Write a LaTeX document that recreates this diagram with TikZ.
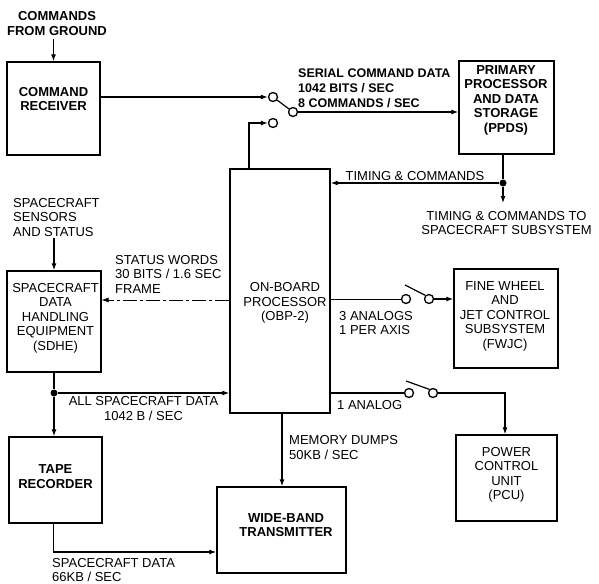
\documentclass[tikz,border=0pt]{standalone}
\usepackage{fontspec}
\setmainfont{Liberation Sans}
\usetikzlibrary{arrows.meta,calc,positioning}

\begin{document}
\begin{tikzpicture}[x=1pt,y=-1pt,
  every node/.style={font=\fontsize{13pt}{14.5pt}\selectfont},
  bf/.style={font=\fontsize{13pt}{14.5pt}\selectfont\bfseries},
  blk/.style={draw,line width=1.3pt,inner sep=0pt},
  txt/.style={align=left,inner sep=1pt},
  arr/.style={-{Latex[length=7pt,width=5pt]}},
  wire/.style={line width=1.2pt},
  thinwire/.style={line width=0.6pt},
  contact/.style={circle,draw,line width=1.3pt,minimum size=9pt,inner sep=0pt},
  jdot/.style={circle,fill,minimum size=7pt,inner sep=0pt}]
  \useasboundingbox (0,0) rectangle (599,583);

  % blocks
  \node[blk,minimum width=93pt,minimum height=93pt] (cr) at (53.5,108.5) {};
  \node[bf,align=center] (crtext) at (53.5,99) {COMMAND\\RECEIVER};
  \node[blk,minimum width=95pt,minimum height=93pt] (ppds) at (506.5,107.5) {};
  \node[bf,align=center] (ppdstext) at (506,100) {PRIMARY\\PROCESSOR\\AND DATA\\STORAGE\\(PPDS)};
  \node[blk,minimum width=100pt,minimum height=244pt] (obp) at (280,291) {};
  \node[align=center] (obptext) at (285,303) {ON-BOARD\\PROCESSOR\\(OBP-2)};
  \node[blk,minimum width=94pt,minimum height=101pt] (sdhe) at (54,321.5) {};
  \node[align=center] (sdhetext) at (55.5,318) {SPACECRAFT\\DATA\\HANDLING\\EQUIPMENT\\(SDHE)};
  \node[blk,minimum width=104pt,minimum height=99pt] (fwjc) at (506,318.5) {};
  \node[align=center] (fwjctext) at (505,316) {FINE WHEEL\\AND\\JET CONTROL\\SUBSYSTEM\\(FWJC)};
  \node[blk,minimum width=93pt,minimum height=86pt] (tape) at (55.5,480) {};
  \node[bf,align=center] (tapetext) at (55.5,476.5) {TAPE\\RECORDER};
  \node[blk,minimum width=129pt,minimum height=86pt] (wbt) at (281.5,530) {};
  \node[bf,align=center] (wbttext) at (286,525) {WIDE-BAND\\TRANSMITTER};
  \node[blk,minimum width=101pt,minimum height=86pt] (pcu) at (506.5,478) {};
  \node[align=center] (pcutext) at (506.5,475) {POWER\\CONTROL\\UNIT\\(PCU)};

  % command path and first switch
  \node[bf,align=center] (cmds) at (57,23.5) {COMMANDS\\FROM GROUND};
  \draw[wire,arr] (cmds.south -| cr.north) -- (cr.north);
  \node[contact] (swa) at (273,97) {};
  \node[contact] (swc) at (293,112) {};
  \node[contact] (swb) at (273,123) {};
  \draw[wire,arr] ([yshift=11.5pt]cr.east) -- (swa);
  \draw[wire] (swa) -- (swc);
  \draw[wire,arr] (swc) -- (swc -| ppds.west);
  \draw[wire,arr] ([xshift=-31pt]obp.north) |- (swb);
  \node[txt,anchor=west,font=\fontsize{12.5pt}{15pt}\selectfont\bfseries] (serial) at (297,88) {SERIAL COMMAND DATA\\1042 BITS / SEC\\8 COMMANDS / SEC};

  % timing
  \node[jdot] (tdot) at (503,183) {};
  \coordinate (tout) at (503,203);
  \draw[wire] (ppds.south -| tdot) -- (tdot);
  \draw[wire,arr] (tdot) -- (tout);
  \draw[wire,arr] (tdot) -- (tdot -| obp.east) node[midway,above,inner sep=2pt] (timing) {TIMING \& COMMANDS};
  \node[align=center] (tsub) at (506.5,223) {TIMING \& COMMANDS TO\\SPACECRAFT SUBSYSTEM};

  % sensors and status
  \node[txt,anchor=west] (sens) at (12,217.5) {SPACECRAFT\\SENSORS\\AND STATUS};
  \draw[wire,arr] (sens.south -| sdhe.north) -- (sdhe.north);
  \draw[thinwire,arr,dash pattern=on 14pt off 3pt on 3pt off 3pt] ([yshift=-9pt]obp.west) -- ([yshift=-9pt]obp.west -| sdhe.east);
  \node[txt,anchor=west] (status) at (114,274) {STATUS WORDS\\30 BITS / 1.6 SEC\\FRAME};

  % spacecraft data
  \node[jdot] (sdot) at (54,393) {};
  \draw[wire] (sdhe.south) -- (sdot);
  \draw[wire,arr] (sdot) -- (sdot |- tape.north);
  \draw[wire,arr] (sdot) -- (sdot -| obp.west) node[midway,below,align=center,inner sep=3pt] (alldata) {ALL SPACECRAFT DATA\\1042 B / SEC};
  \draw[wire,arr] ([xshift=-2pt]tape.south) |- ([yshift=-22pt]wbt.west);
  \node[txt,anchor=west] (scdata) at (51,570) {SPACECRAFT DATA\\66KB / SEC};
  \draw[wire,arr] ([xshift=2pt]obp.south) -- ([xshift=2pt]obp.south |- wbt.north);
  \node[txt,anchor=west] (memdump) at (288,447.5) {MEMORY DUMPS\\50KB / SEC};

  % analog outputs
  \node[contact] (swd) at (406,299) {};
  \node[contact] (swe) at (429,299) {};
  \coordinate (levd) at (405,285);
  \draw[thinwire] (swd -| obp.east) -- (swd);
  \draw[wire] (swe.north west) -- (levd);
  \draw[wire,arr] (swe) -- (swe -| fwjc.west);
  \node[txt,anchor=west] (analogs) at (338,323) {3 ANALOGS\\1 PER AXIS};
  \node[contact] (swf) at (409,393) {};
  \node[contact] (swg) at (433,393) {};
  \coordinate (levf) at (406,381);
  \draw[wire] (swf -| obp.east) -- (swf);
  \draw[wire] (swg.north west) -- (levf);
  \draw[wire,arr] (swg) -| ([xshift=-1.5pt]pcu.north);
  \node[txt,anchor=west] (analog) at (336,405) {1 ANALOG};
\end{tikzpicture}
\end{document}
